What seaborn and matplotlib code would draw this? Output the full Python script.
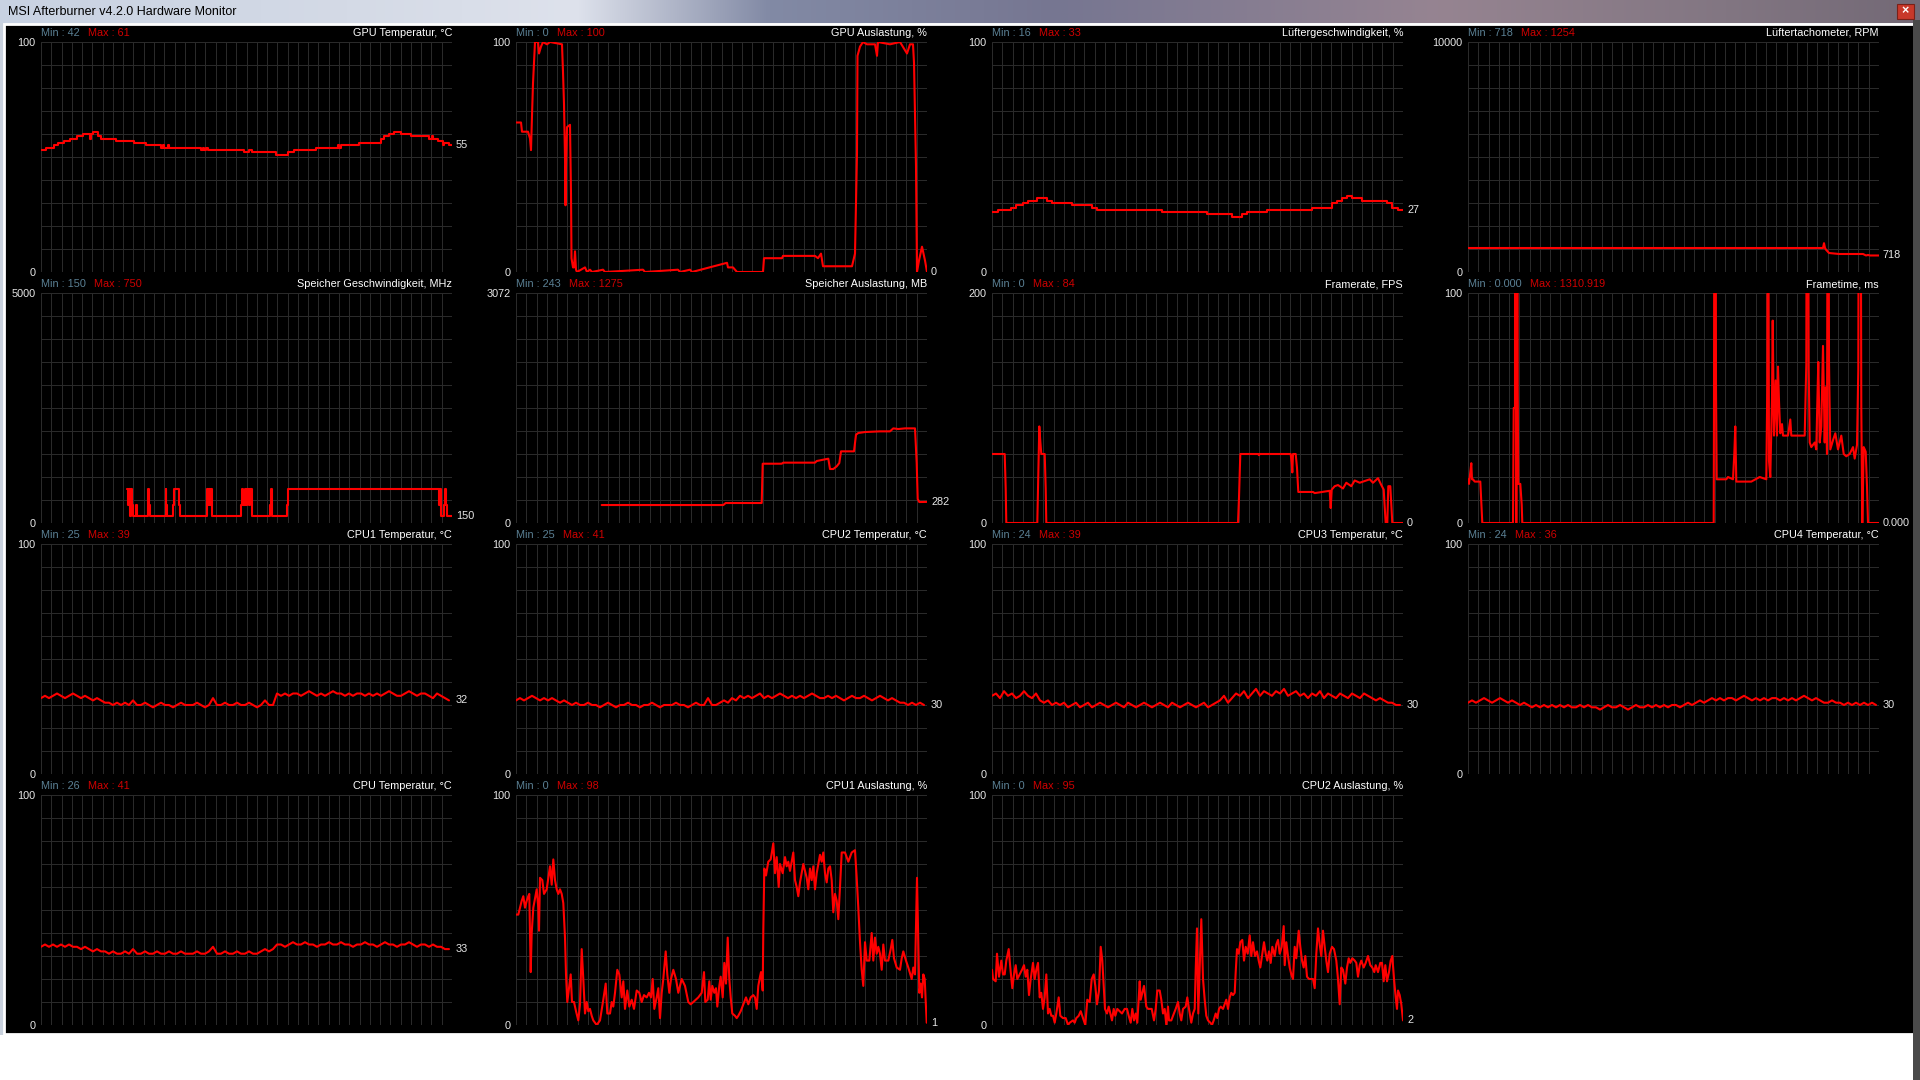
import numpy as np
import pandas as pd
import matplotlib
matplotlib.use("Agg")
import matplotlib.pyplot as plt
import seaborn as sns

sns.set_style("dark")
plt.rcParams['font.family'] = ['Liberation Sans', 'DejaVu Sans']

# ---------------- data (time sample, value) ----------------
gpu_temp = [(0,53),(5,54),(13,55),(17,56),(23,57),(29,58),(36,59),(42,60),(48,60),(49,58),(50,60),(52,61),(57,59),(60,58),
            (75,57),(93,56),(105,55),(120,54),(122,55),(123,54),(127,55),(128,54),(160,53),(162,54),(163,53),(165,54),(167,53),
            (203,52),(208,53),(211,52),(235,51),(247,52),(253,53),(275,54),(297,55),(298,54),(300,55),(318,56),(340,58),(343,59),
            (348,60),(353,61),(360,60),(370,59),(388,58),(391,59),(392,58),(397,57),(402,55),(403,56),(408,55),(411,55)]

gpu_load = [(0,65),(5,65),(6,61),(12,61),(14,58),(15,53),(16,68),(17,82),(18,91),(19,100),(22,100),(23,95),(25,98),(27,100),
            (31,99),(34,100),(46,99),(47,87),(48,73),(49,50),(49.5,29),(50,46),(51,63),(54,64),(55,34),(55.5,6),(57,2),(58,2),
            (59,9),(60,1),(61,0),(69,2),(71,0),(74,1),(76,0),(87,1),(89,0),(127,1),(129,0),(162,1),(164,0),(174,1),(176,0),
            (211,4),(212,2),(217,2),(221,0),(247,0),(248,6),(266,6),(267,7),(299,7),(302,6),(305,8),(307,2.5),(336,2.5),(339,8),
            (341,52),(341.5,94),(344,98),(347,100),(351,99),(359,99),(361,94),(362,100),(374,99),(384,100),(391,95),(394,99),
            (397,99),(398,91),(400,46),(401,0),(403,5),(406,11),(409,5),(411,0)]

fan_pct = [(0,26),(6,27),(19,28),(24,29),(31,30),(36,31),(45,32),(55,31),(60,30),(80,29),(100,28),(105,27),(170,26),
           (215,25),(240,24),(250,25),(255,26),(275,27),(320,28),(340,30),(345,31),(350,32),(355,33),(360,32),(370,31),
           (395,30),(400,28),(406,27),(411,27)]

fan_rpm = [(0,1043),(355,1043),(356,1254),(357,1043),(358,970),(361,826),(371,783),(395,783),(397,740),(398,718),
           (400,740),(402,718),(411,718)]

mem_clock = [(86,750),(87,400),(88,750),(89.3,150),(90.3,750),(91.3,400),(92.3,150),(95,400),(96,150),(107,750),(107.7,400),
             (108.7,150),(124.7,750),(125.3,400),(126.3,150),(132,400),(133,750),(137.7,400),(138.7,150),(165.7,750),
             (166.7,400),(167.7,750),(169,400),(170.3,750),(171.3,150),(200,400),(201,750),(202.3,400),(203.7,750),(205,400),
             (206.3,750),(208,400),(209,750),(210.7,150),(229.3,400),(230,750),(231,150),(245.7,400),(247.3,750),(397.7,400),
             (399,750),(400,150),(402.7,400),(403.7,750),(405,400),(406,150),(411,150)]

mem_used = [(85.7,240),(207.3,240),(209.7,267),(245.7,267),(246.7,792),(265.7,792),(267.3,806),(299,806),(300.7,828),
            (312.3,859),(314,721),(317.3,721),(320.7,757),(323.3,801),(325,957),(338,957),(340,1180),(342.3,1202),(349,1215),
            (364,1224),(374,1224),(377.3,1264),(382.3,1255),(389,1264),(399,1264),(400.7,801),(401.7,320),(403.3,280),(410.7,282)]

fps = [(0,60),(12.7,60),(13.7,30),(14.3,0),(45.3,0),(46.3,42),(47.3,84),(48.3,71),(49.3,60),(52.7,60),(53.7,30),(54.3,0),
       (246,0),(247,22),(248.3,60),(266,60),(267,59),(267.7,60),(298.7,60),(299.7,52),(300.3,44),(301,60),(303.7,60),(305,48),
       (306.3,27),(321,27),(322.7,26),(337.7,28),(338.7,13),(339.7,29),(342.7,32),(346,33),(351,30),(354.3,35),(359.3,32),
       (362.7,37),(367.7,35),(377.7,38),(381,35),(386,39),(389.3,33),(391.7,29),(392.7,14),(393.7,0),(395.3,0),(396.3,32),
       (398.3,32),(399.3,16),(400.3,0),(411,0)]

frametime = [(0,19),(1,17),(2.3,22),(3.3,26),(4,19),(5,19),(6.7,18),(12.3,18),(13.3,9),(14.3,0),(45,0),(45.7,50),(47,50),
             (47.7,1310.919),(48.3,0),(49,420),(49.7,58),(50.3,17),(52.3,17),(53.7,8),(54.3,0),(245.7,0),(246,50),(247,380),
             (248,59),(248.7,19),(258.3,19),(260,20),(265,19),(266.3,30),(267.3,42),(268.3,18),(283.3,18),(291.7,20),(298.3,19),
             (299.3,60),(300,210),(301,27),(302.3,20),(304,54),(304.7,88),(306,38),(307.7,62),(309,38),(310,68),(311,53),
             (312.3,39),(314,43),(315,38),(320,38),(322.3,45),(323.3,38),(336.7,38),(338.3,69),(339.3,300),(340.7,67),
             (341.7,35),(343.3,33),(346.7,35),(348.3,32),(349.3,52),(350.3,70),(351.7,35),(353.3,42),(355,77),(356.7,35),
             (357.7,59),(359,30),(360,260),(361,70),(362.3,32),(365,36),(367.3,39),(370,32),(373.3,38),(375.7,30),(378.3,29),
             (381.7,30),(385,33),(386.7,28),(389,34),(390.3,67),(391.7,350),(393.3,50),(394.3,0),(395.7,33),(397.7,31),
             (399,16),(400,0),(411,0)]

cpu1_temp = [33,34,33,34,35,34,33,34,35,34, 33,34,33,32,33,32,31,31,30,31, 30,31,30,32,30,30,31,30,29,30,
             31,30,30,29,30,31,30,30,30,31, 30,29,30,33,30,30,31,30,30,31, 30,30,31,30,29,30,32,30,30,35,
             34,35,34,35,35,34,35,36,35,34, 35,34,35,36,35,35,34,35,34,35, 35,34,35,34,35,34,35,36,35,34,
             34,35,36,35,34,35,35,34,33,35, 34,33,32]
cpu2_temp = [32,33,32,33,34,33,32,33,32,33, 32,31,32,31,30,31,30,30,31,30, 30,29,30,31,30,29,30,30,31,30,
             30,29,30,30,31,30,29,30,30,30, 31,30,30,29,30,31,30,30,33,30, 30,31,32,31,33,32,34,33,34,33,
             34,35,33,34,33,34,35,34,33,34, 33,34,33,34,35,34,33,33,34,33, 34,33,32,33,34,33,33,34,33,32,
             33,34,33,32,33,32,31,31,30,31, 30,31,30]
cpu3_temp = [34,35,33,36,34,35,33,34,36,34, 33,35,32,31,32,30,31,30,31,29, 30,31,29,30,31,29,30,31,30,29,
             30,31,30,29,31,30,29,30,31,30, 29,30,31,30,29,31,30,29,30,31, 30,29,30,31,29,30,31,32,34,31,
             33,35,34,36,33,35,37,34,36,35, 34,36,35,37,34,35,36,34,35,33, 35,34,36,33,35,34,33,35,34,33,
             35,34,33,35,34,33,32,33,32,31, 31,30,30]
cpu4_temp = [31,32,31,32,33,32,31,32,33,32, 31,32,31,30,31,30,29,30,29,30, 29,30,29,30,29,30,29,29,30,29,
             30,29,29,28,29,30,29,29,30,29, 28,29,30,29,29,30,29,30,29,30, 29,30,30,29,30,31,30,31,32,31,
             32,33,32,33,32,33,33,32,33,34, 33,32,33,32,33,32,33,33,32,33, 32,33,32,33,34,33,32,33,32,31,
             31,32,31,31,30,31,30,31,30,31, 30,31,30]
cpu_temp = [34,35,34,35,34,35,34,35,34,34, 33,34,33,32,33,32,32,31,32,31, 31,32,31,33,31,31,32,31,31,32,
            31,31,32,31,31,32,31,31,31,32, 31,31,32,34,31,31,32,31,31,32, 31,31,32,31,31,32,33,32,33,35,
            35,34,35,36,35,35,36,35,35,34, 35,35,36,35,35,36,35,35,34,35, 35,36,35,35,34,35,36,35,35,34,
            35,35,36,35,34,35,35,34,35,34, 34,33,33]

cpu1_load = [(0,48),(2.3,48),(4,51),(5.7,54),(7.3,56),(9,51),(10.7,54),(12.3,56),(13.3,57),(14,40),(14.7,23),(15.7,40),
             (17.3,51),(19,55),(20.7,59),(22.3,51),(23,41),(24,64),(26.3,63),(28,57),(30.7,59),(32.3,64),(34,69),(35.7,61),
             (37.3,72),(39,63),(40.7,59),(42.3,57),(44,59),(45.7,57),(47.3,53),(49,38),(50,22),(51.3,10),(53,16),(54.7,22),
             (56,10),(58,10),(60,6),(62.3,2),(64,9),(65.7,33),(67.3,20),(69,5),(70.7,10),(72.3,6),(74,7),(75.7,4),(77.3,2),
             (80.7,0),(84,2),(87.3,11),(89.7,18),(91.3,5),(94,5),(95.7,10),(97.3,8),(99,14),(101.3,24),(103.3,22),(105.7,12),
             (107.3,19),(109,7),(111.3,15),(113.3,8),(115.7,11),(118,7),(120.7,15),(123.3,14),(125.7,10),(128,13),(130.7,12),
             (133,14),(135,12),(136.7,20),(138.3,7),(140.7,12),(142.3,16),(144,3),(145.7,14),(147.3,20),(149.7,32),(151.3,22),
             (153.3,14),(155,20),(157.3,24),(160,20),(162.3,14),(165.7,20),(169,17),(172.3,10),(174.7,9),(177.3,10),(182.3,12),
             (185.7,14),(188,23),(189.3,10),(191.7,11),(193.3,19),(194.7,11),(196.3,17),(198.3,14),(200,16),(201.3,8),
             (203.3,17),(204.7,21),(206.7,12),(208.3,27),(210,18),(211.7,38),(213.3,20),(214.7,12),(216.3,5),(219,4),
             (220.7,3),(222.3,4),(224.7,6),(227.3,9),(230,12),(232.3,9),(234.7,12),(237.3,13),(239,12),(240.7,7),(242.3,17),
             (244,21),(245,23),(246.7,15),(247.3,41),(248.3,68),(250,65),(252.3,71),(254.7,72),(257.3,79),(259,66),(260.7,73),
             (262.7,60),(264,70),(266.7,66),(269,73),(270.7,69),(272.3,71),(274,67),(275.7,71),(277.3,75),(279,63),(280.7,60),
             (282.3,56),(284,62),(285.7,66),(287.3,70),(289,67),(290.7,64),(292.3,59),(294,68),(295.7,63),(297.3,69),(299,59),
             (300.7,66),(302.3,70),(304,74),(305.7,71),(307.3,75),(309,66),(310.7,62),(312.3,68),(314,69),(315.7,63),
             (317.3,49),(319,57),(320.7,54),(322.3,46),(324,60),(325.7,75),(329,75),(332.3,71),(335.7,75),(339,76),(340.7,64),
             (342.3,51),(344,36),(345.7,24),(347.3,17),(349,36),(350.7,28),(353.3,28),(355.7,40),(357.3,28),(359,38),
             (360.7,31),(362.3,34),(364,31),(365.7,24),(367.3,35),(369,28),(372.3,28),(374.7,33),(376.3,37),(378,29),
             (380.7,25),(384,24),(385.7,29),(387.3,32),(390,28),(392.3,25),(395.7,20),(397.3,25),(399,22),(400,43),(401,64),
             (402,43),(403.3,14),(404.7,18),(406,12),(407.3,22),(408.7,20),(410,7),(410.7,1)]

cpu2_load = [(0,24),(1,20),(3.7,19),(5,31),(7,21),(9.3,28),(11,22),(12.7,22),(14.3,28),(16.7,33),(18.3,25),(20.3,16),(22,22),
             (23.7,26),(25.3,20),(27.7,22),(30,24),(32,26),(33.7,21),(35.3,24),(37,13),(38.7,20),(41,27),(42.7,20),(44.3,24),
             (46,27),(47.7,12),(49.3,14),(51,7),(52.7,12),(54.3,22),(56,5),(57.7,7),(59.3,4),(61,4),(62.7,1),(64.3,5),(66.7,12),
             (68.3,4),(71,3),(73.7,3),(76,0),(77.7,1),(81,2),(82.7,1),(84.3,3),(86.7,4),(88.7,6),(91,3),(93.3,0),(95.3,11),
             (97.7,10),(99.7,20),(101.7,22),(103.3,17),(105,9),(107,15),(108.7,34),(110.3,28),(111.7,17),(113,7),(115,5),
             (116.7,8),(118.3,5),(120,2),(121.7,7),(123.3,4),(125.3,7),(127.7,6),(130,5),(132.7,7),(135,7),(136.7,4),
             (138.7,1),(140.3,7),(142,2),(143.7,5),(145.3,1),(147.7,19),(148.7,11),(150.3,14),(152,17),(154.3,8),(156,7),
             (157.7,7),(159.7,7),(162,2),(163.7,7),(165.3,15),(167.7,15),(169.3,11),(171,5),(172.7,7),(174.3,0),(176,8),
             (177,2),(179.3,2),(181,4),(183.7,7),(186,10),(187.7,5),(189.3,2),(191,7),(193.7,8),(195.3,12),(197,7),(199.3,1),
             (201,5),(202.7,7),(203.7,24),(205,42),(206.3,5),(207.7,25),(209.3,46),(211,20),(212.7,11),(214.3,4),(216,2),
             (218.3,1),(220,0),(221.7,2),(223.7,5),(225.3,3),(227,7),(228.7,8),(231,7),(232.7,9),(234.3,11),(236,7),(237.7,12),
             (239.3,14),(241,13),(242.7,14),(243.7,23),(245,33),(246.7,31),(248.3,36),(250.3,37),(252,28),(253.7,34),
             (255.7,31),(257.7,39),(259.3,30),(261,36),(263,30),(265,32),(266.7,28),(268.3,25),(270.3,31),(272,36),(273.7,31),
             (275.3,28),(277,32),(278.7,27),(280.3,34),(282.7,30),(284.3,35),(286,37),(287.7,31),(289.7,34),(291.7,43),
             (292.7,26),(294.3,36),(296,30),(297.7,25),(299.3,22),(301,20),(302.7,34),(304.3,29),(306.7,41),(308.3,34),
             (310,28),(311.7,25),(313.3,30),(315,21),(317,20),(319.3,20),(321,20),(322.7,16),(324.3,31),(326,42),(327.7,35),
             (329.3,30),(331,41),(332.7,34),(334.3,28),(336,23),(337.7,31),(340,34),(342,33),(344.3,28),(346,20),(347.7,9),
             (349.3,25),(351,24),(353.3,18),(355,25),(356.7,29),(358.3,27),(360.3,29),(362.7,28),(364.3,27),(366,21),
             (367.7,26),(369.3,28),(371.7,25),(373.7,27),(376,30),(378.3,26),(380.3,25),(382.3,23),(383.7,26),(386,23),
             (388.3,27),(390,27),(391.7,19),(393.3,26),(395,19),(397,23),(398.7,28),(400.3,30),(402,20),(403.7,12),(405,7),
             (406,15),(407.7,13),(409.3,9),(411,2)]

# panel descriptions: title, min, max, y-top, current label
titles = ["GPU Temperatur, °C", "GPU Auslastung, %", "Lüftergeschwindigkeit, %", "Lüftertachometer, RPM",
          "Speicher Geschwindigkeit, MHz", "Speicher Auslastung, MB", "Framerate, FPS", "Frametime, ms",
          "CPU1 Temperatur, °C", "CPU2 Temperatur, °C", "CPU3 Temperatur, °C", "CPU4 Temperatur, °C",
          "CPU Temperatur, °C", "CPU1 Auslastung, %", "CPU2 Auslastung, %"]
min_labels = ["42", "0", "16", "718", "150", "243", "0", "0.000", "25", "25", "24", "24", "26", "0", "0"]
max_labels = ["61", "100", "33", "1254", "750", "1275", "84", "1310.919", "39", "41", "39", "36", "41", "98", "95"]
y_tops = [100, 100, 100, 10000, 5000, 3072, 200, 100, 100, 100, 100, 100, 100, 100, 100]
current_labels = ["55", "0", "27", "718", "150", "282", "0", "0.000", "32", "30", "30", "30", "33", "1", "2"]

def uniform(vals, step=4):
    return [(i * step, v) for i, v in enumerate(vals)]

series = [gpu_temp, gpu_load, fan_pct, fan_rpm, mem_clock, mem_used, fps, frametime,
          uniform(cpu1_temp), uniform(cpu2_temp), uniform(cpu3_temp), uniform(cpu4_temp),
          uniform(cpu_temp), cpu1_load, cpu2_load]
stepped = [True, False, True, False, True, False, False, False,
           False, False, False, False, False, False, False]

# ---------------- figure & window chrome ----------------
W, H = 1920, 1080
fig = plt.figure(figsize=(19.2, 10.8), dpi=100)
fig.patch.set_facecolor("white")

bg = fig.add_axes([0, 0, 1, 1], zorder=-5)
bg.set_xlim(0, W)
bg.set_ylim(H, 0)
bg.axis("off")

stops_x = [0.0, 0.18, 0.30, 0.40, 0.55, 0.75, 0.90, 1.0]
stops_c = np.array([[200, 210, 226], [212, 218, 230], [222, 226, 236], [130, 138, 165],
                    [118, 118, 145], [150, 132, 145], [130, 118, 130], [115, 105, 118]]) / 255.0
xs = np.linspace(0, 1, 512)
grad = np.stack([np.interp(xs, stops_x, stops_c[:, k]) for k in range(3)], axis=-1)[None, :, :]
bg.imshow(grad, extent=(0, W, 23, 0), aspect="auto", interpolation="bilinear")
bg.add_patch(plt.Rectangle((0, 23), W, 1012, facecolor="#c9d2de", edgecolor="none"))
bg.add_patch(plt.Rectangle((4, 24), 1910, 1010, facecolor="black", edgecolor="white", lw=2))
bg.add_patch(plt.Rectangle((1913, 20), 7, 1060, facecolor="#4a4a4a", edgecolor="none"))
bg.add_patch(plt.Rectangle((1897, 4), 17, 15, facecolor="#c8382a", edgecolor="#7a2018", lw=0.8))
bg.text(1905.5, 11.5, "×", color="white", ha="center", va="center", fontsize=9, fontweight="bold")
bg.text(8, 12, "MSI Afterburner v4.2.0 Hardware Monitor", color="black", ha="left", va="center", fontsize=9)

# ---------------- panels ----------------
col_x = [41, 516, 992, 1468]
row_top = [42, 293, 544, 795]
pw, ph = 411, 230

MINC = "#5b8195"
MAXC = "#d00000"
TXT = "#e6e6e6"
FS = 7.8

for i, data in enumerate(series):
    r, c = divmod(i, 4)
    x0, yt = col_x[c], row_top[r]
    ax = fig.add_axes([x0 / W, 1 - (yt + ph) / H, pw / W, ph / H])
    ax.set_facecolor("black")
    df = pd.DataFrame(data, columns=["t", "v"])
    sns.lineplot(data=df, x="t", y="v", ax=ax, color="#ff0000", linewidth=1.5,
                 estimator=None, sort=False, legend=False,
                 drawstyle="steps-post" if stepped[i] else "default")
    ymax = y_tops[i]
    ax.set_xlim(0, 411)
    ax.set_ylim(0, ymax)
    ax.yaxis.remove_overlapping_locs = False
    ax.xaxis.remove_overlapping_locs = False
    ax.set_xticks([])
    ax.set_xticks(np.linspace(0, 411, 41), minor=True)
    ax.set_yticks([0, ymax])
    ax.set_yticklabels(["0", str(ymax)])
    ax.set_yticks(np.linspace(0, ymax, 11), minor=True)
    ax.grid(False, which="major")
    ax.grid(True, which="minor", color="#2a2a2a", linewidth=0.75)
    ax.tick_params(which="both", length=0, labelcolor=TXT, labelsize=FS, pad=4)
    ax.set_xlabel("")
    ax.set_ylabel("")
    for s in ax.spines.values():
        s.set_visible(False)
    for ln in ax.get_lines():
        ln.set_zorder(3)

    mn = ax.annotate(f"Min : {min_labels[i]}", xy=(0, 1), xycoords="axes fraction", xytext=(0, 9),
                     textcoords="offset pixels", ha="left", va="center", color=MINC, fontsize=FS)
    ax.annotate(f"Max : {max_labels[i]}", xy=(1, 0.5), xycoords=mn, xytext=(8, 0),
                textcoords="offset pixels", ha="left", va="center", color=MAXC, fontsize=FS)
    ax.annotate(titles[i], xy=(1, 1), xycoords="axes fraction", xytext=(0, 9),
                textcoords="offset pixels", ha="right", va="center", color="white", fontsize=FS)
    last_v = min(df["v"].iloc[-1], ymax)
    ax.annotate(current_labels[i], xy=(1, last_v), xycoords=("axes fraction", "data"), xytext=(4, 0),
                textcoords="offset pixels", ha="left", va="center", color=TXT, fontsize=FS,
                annotation_clip=False)

fig.savefig("out.png", dpi=100, facecolor=fig.get_facecolor())
